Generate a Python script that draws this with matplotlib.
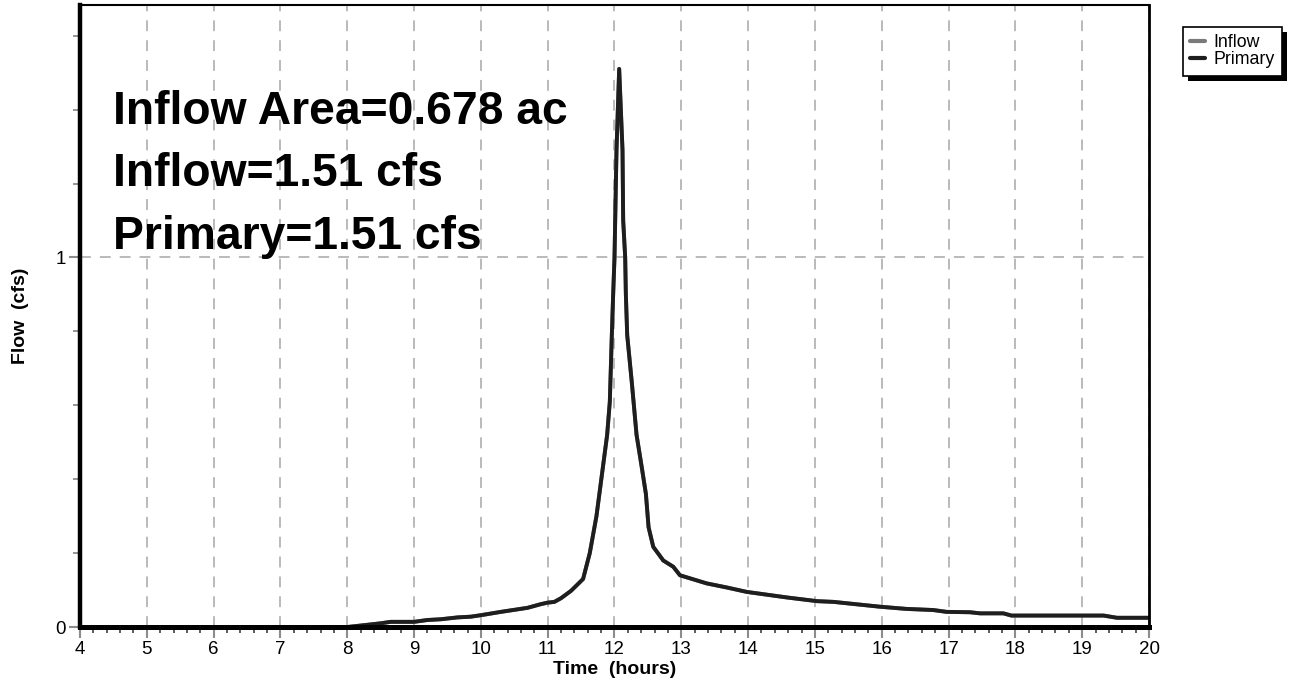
import matplotlib
matplotlib.use("Agg")
import matplotlib.pyplot as plt
from matplotlib.patches import Rectangle
from matplotlib.ticker import MultipleLocator

plt.rcParams["font.family"] = ["Liberation Sans", "DejaVu Sans"]

# Hydrograph
zeit = [4.0, 8.0, 8.5, 8.65, 9.0, 9.2, 9.4, 9.65, 9.85, 10.0, 10.3, 10.7, 10.9, 11.0,
        11.1, 11.2, 11.35, 11.53, 11.63, 11.73, 11.81, 11.89, 11.93, 11.96, 11.98,
        12.0, 12.03, 12.07, 12.12, 12.13, 12.16, 12.17, 12.19, 12.26, 12.33, 12.41,
        12.47, 12.51, 12.58, 12.73, 12.88, 12.98, 13.38, 13.68, 13.98, 14.58, 15.03,
        15.28, 15.97, 16.37, 16.77, 16.97, 17.32, 17.47, 17.82, 17.94, 19.32, 19.52, 20.0]
inflow = [0.0, 0.0, 0.010, 0.014, 0.014, 0.019, 0.021, 0.026, 0.028, 0.032, 0.041, 0.052,
          0.062, 0.066, 0.068, 0.078, 0.098, 0.13, 0.20, 0.30, 0.41, 0.52, 0.61, 0.79, 0.90,
          1.00, 1.29, 1.51, 1.29, 1.10, 1.00, 0.90, 0.79, 0.66, 0.52, 0.43, 0.36, 0.27, 0.217,
          0.18, 0.163, 0.14, 0.118, 0.107, 0.095, 0.080, 0.070, 0.068, 0.055, 0.049, 0.046,
          0.041, 0.040, 0.037, 0.037, 0.031, 0.031, 0.025, 0.025]
primary = list(inflow)

infotexte = ["Inflow Area=0.678 ac", "Inflow=1.51 cfs", "Primary=1.51 cfs"]
x_ticks = list(range(4, 21))
y_ticks = [0, 1]

fig = plt.figure(figsize=(12.96, 6.84), dpi=100)
ax = fig.add_axes([0.0617, 0.0833, 0.8249, 0.9094])

l1, = ax.plot(zeit, inflow, color="#7a7a7a", lw=2.8, label="Inflow", solid_capstyle="round")
l2, = ax.plot(zeit, primary, color="#1e1e1e", lw=2.8, label="Primary", solid_capstyle="round")

ax.set_xlim(4, 20)
ax.set_ylim(0, 1.683)
ax.set_xticks(x_ticks)
ax.set_yticks(y_ticks)
ax.xaxis.set_minor_locator(MultipleLocator(0.2))
ax.yaxis.set_minor_locator(MultipleLocator(0.2))

ax.tick_params(which="major", length=8, width=1.5, color="#8c8c8c", labelsize=13.5, pad=2)
ax.tick_params(axis="x", which="minor", length=4, width=1.3, color="#505050")
ax.tick_params(axis="y", which="minor", length=5, width=1.3, color="#8c8c8c")

ax.grid(which="major", color="#b4b4b4", linestyle=(0, (6, 5)), linewidth=1.3)
ax.set_axisbelow(True)

ax.spines["left"].set_linewidth(3.2)
ax.spines["bottom"].set_linewidth(3.6)
ax.spines["top"].set_linewidth(1.5)
ax.spines["right"].set_linewidth(2.0)

ax.set_xlabel("Time  (hours)", fontsize=14, fontweight="bold", labelpad=2)
ax.set_ylabel("Flow  (cfs)", fontsize=14, fontweight="bold")
ax.yaxis.set_label_coords(-0.048, 0.5)

for i, t in enumerate(infotexte):
    ax.text(4.49, 1.362 - i * 0.169, t, fontsize=33.3, fontweight="bold", va="baseline", ha="left")

leg = fig.legend(handles=[l1, l2], loc="upper left", bbox_to_anchor=(0.9125, 0.961),
                 fontsize=12.8, frameon=True, fancybox=False, framealpha=1,
                 handlelength=0.85, handletextpad=0.45, borderpad=0.42,
                 labelspacing=0.0, borderaxespad=0)
leg.get_frame().set_edgecolor("black")
leg.get_frame().set_facecolor("white")
leg.get_frame().set_linewidth(1.2)
for h in leg.get_lines():
    h.set_linewidth(3)

# Schatten hinter der Legende
fig.canvas.draw()
bb = leg.get_window_extent().transformed(fig.transFigure.inverted())
dx, dy = 5 / 1296, 5 / 684
fig.patches.append(Rectangle((bb.x0 + dx, bb.y0 - dy), bb.width, bb.height,
                             transform=fig.transFigure, facecolor="black",
                             edgecolor="none", zorder=leg.get_zorder() - 1))

fig.savefig("out.png", dpi=100)
